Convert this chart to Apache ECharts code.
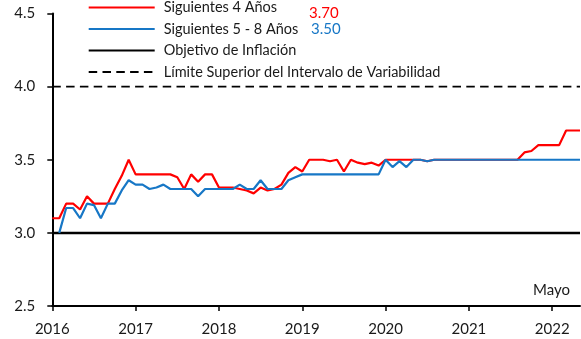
<!DOCTYPE html>
<html><head><meta charset="utf-8">
<script src="https://cdn.jsdelivr.net/npm/echarts@6/dist/echarts.min.js"></script>
<style>html,body{margin:0;padding:0;background:#fff}#c{width:581px;height:339px}</style>
</head><body><div id="c"></div>
<script>
// Monthly survey rounds, January 2016 to May 2022
const years = ['2016', '2017', '2018', '2019', '2020', '2021', '2022'];
const lastMonth = 'Mayo';
const months = [];
years.forEach(y => {
  for (let m = 1; m <= 12; m++) {
    if (y === '2022' && m > 5) break;
    months.push(y + '-' + String(m).padStart(2, '0'));
  }
});

// Inflation expectations, next 4 years
const next4 = [
  3.10, 3.10, 3.20, 3.20, 3.16, 3.25, 3.20, 3.20, 3.20, 3.30, 3.39, 3.50,
  3.40, 3.40, 3.40, 3.40, 3.40, 3.40, 3.38, 3.30, 3.40, 3.35, 3.40, 3.40,
  3.31, 3.31, 3.31, 3.30, 3.29, 3.27, 3.31, 3.29, 3.30, 3.33, 3.41, 3.45,
  3.42, 3.50, 3.50, 3.50, 3.49, 3.50, 3.42, 3.50, 3.48, 3.47, 3.48, 3.46,
  3.50, 3.50, 3.50, 3.50, 3.50, 3.50, 3.49, 3.50, 3.50, 3.50, 3.50, 3.50,
  3.50, 3.50, 3.50, 3.50, 3.50, 3.50, 3.50, 3.50, 3.55, 3.56, 3.60, 3.60,
  3.60, 3.60, 3.70, 3.70, 3.70
];
// Inflation expectations, years 5 to 8
const next5to8 = [
  null, 3.00, 3.17, 3.17, 3.10, 3.20, 3.19, 3.10, 3.20, 3.20, 3.29, 3.36,
  3.33, 3.33, 3.30, 3.31, 3.33, 3.30, 3.30, 3.30, 3.30, 3.25, 3.30, 3.30,
  3.30, 3.30, 3.30, 3.33, 3.30, 3.30, 3.36, 3.30, 3.30, 3.30, 3.36, 3.38,
  3.40, 3.40, 3.40, 3.40, 3.40, 3.40, 3.40, 3.40, 3.40, 3.40, 3.40, 3.40,
  3.50, 3.45, 3.49, 3.45, 3.50, 3.50, 3.49, 3.50, 3.50, 3.50, 3.50, 3.50,
  3.50, 3.50, 3.50, 3.50, 3.50, 3.50, 3.50, 3.50, 3.50, 3.50, 3.50, 3.50,
  3.50, 3.50, 3.50, 3.50, 3.50
];
const target = 3.0;
const upperLimit = 4.0;
const yMin = 2.5, yMax = 4.5, yStep = 0.5;

const RED = '#ff0000';
const BLUE = '#1777c6';
const FONT = 'Lato';

const chart = echarts.init(document.getElementById('c'), null, { renderer: 'canvas' });

const names = [
  'Siguientes 4 Años',
  'Siguientes 5 - 8 Años',
  'Objetivo de Inflación',
  'Límite Superior del Intervalo de Variabilidad'
];

chart.setOption({
  animation: false,
  backgroundColor: '#fff',
  textStyle: { fontFamily: FONT },
  grid: { left: 52.3, right: 1, top: 13.5, bottom: 33, containLabel: false },
  legend: {
    orient: 'vertical',
    left: 87.7,
    top: -1,
    padding: 0,
    itemWidth: 66,
    itemHeight: 14,
    itemGap: 4.5,
    data: names,
    selectedMode: false,
    itemStyle: { opacity: 0, borderWidth: 0 },
    textStyle: { fontFamily: FONT, fontSize: 14.5, lineHeight: 17, color: '#1a1a1a', padding: [0, 0, 0, 4] }
  },
  xAxis: {
    type: 'category',
    data: months,
    boundaryGap: false,
    axisLine: { show: true, onZero: false, lineStyle: { color: '#000', width: 2 } },
    axisTick: { show: true, interval: 11, length: 5, lineStyle: { color: '#000', width: 1.5 } },
    axisLabel: {
      interval: 11, margin: 16, fontSize: 15, color: '#1a1a1a', fontFamily: FONT,
      formatter: v => years.includes(v.slice(0, 4)) ? v.slice(0, 4) : ''
    },
    splitLine: { show: false }
  },
  yAxis: {
    type: 'value',
    min: yMin, max: yMax, interval: yStep,
    axisLine: { show: true, lineStyle: { color: '#000', width: 2 } },
    axisTick: { show: true, length: 5, lineStyle: { color: '#000', width: 1.5 } },
    axisLabel: { margin: 17, fontSize: 15, color: '#1a1a1a', fontFamily: FONT, formatter: v => v.toFixed(1) },
    splitLine: { show: false }
  },
  graphic: [
    { type: 'text', left: 309, top: 6, style: { text: next4[next4.length - 1].toFixed(2), fill: RED, font: '15px ' + FONT } },
    { type: 'text', left: 311, top: 22, style: { text: next5to8[next5to8.length - 1].toFixed(2), fill: BLUE, font: '15px ' + FONT } },
    { type: 'text', left: 533, top: 283, style: { text: lastMonth, fill: '#1a1a1a', font: '15px ' + FONT } }
  ],
  series: [
    {
      name: names[2], type: 'line', data: months.map(() => target), symbol: 'none', z: 2,
      lineStyle: { color: '#000', width: 2.5 }, itemStyle: { color: '#000' }, silent: true
    },
    {
      name: names[3], type: 'line', data: months.map(() => upperLimit), symbol: 'none', z: 2,
      lineStyle: { color: '#000', width: 1.7, type: [8.5, 5.3] }, itemStyle: { color: '#000' }, silent: true
    },
    {
      name: names[0], type: 'line', data: next4, symbol: 'none', z: 3,
      lineStyle: { color: RED, width: 2.2 }, itemStyle: { color: RED }
    },
    {
      name: names[1], type: 'line', data: next5to8, symbol: 'none', z: 4,
      lineStyle: { color: BLUE, width: 2.2 }, itemStyle: { color: BLUE }
    }
  ]
});
</script></body></html>
